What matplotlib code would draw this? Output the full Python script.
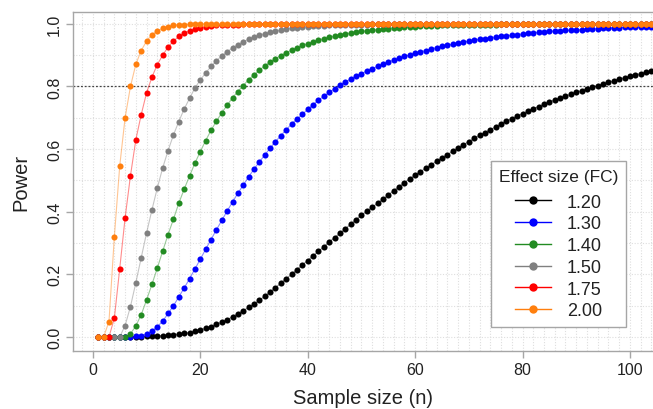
import matplotlib
matplotlib.use("Agg")
import matplotlib.pyplot as plt
from matplotlib.ticker import MultipleLocator

plt.rcParams['font.family'] = ['Liberation Sans', 'DejaVu Sans']

sample_size = list(range(1, 106))

effect_labels = ["1.20", "1.30", "1.40", "1.50", "1.75", "2.00"]
colors = ["#000000", "#0000FF", "#228B22", "#808080", "#FF0000", "#FF7F0E"]

power_120 = [
    0.000, 0.000, 0.000, 0.000, 0.000, 0.000, 0.000, 0.001, 0.001, 0.002,
    0.002, 0.003, 0.004, 0.005, 0.007, 0.009, 0.011, 0.014, 0.018, 0.022,
    0.027, 0.033, 0.040, 0.047, 0.055, 0.064, 0.074, 0.084, 0.094, 0.105,
    0.117, 0.130, 0.144, 0.157, 0.172, 0.186, 0.200, 0.215, 0.230, 0.244,
    0.259, 0.273, 0.288, 0.303, 0.317, 0.331, 0.345, 0.360, 0.375, 0.388,
    0.402, 0.414, 0.427, 0.440, 0.453, 0.467, 0.480, 0.493, 0.505, 0.517,
    0.528, 0.539, 0.550, 0.561, 0.572, 0.582, 0.593, 0.604, 0.614, 0.624,
    0.634, 0.644, 0.653, 0.662, 0.671, 0.680, 0.689, 0.697, 0.705, 0.713,
    0.721, 0.729, 0.736, 0.743, 0.750, 0.757, 0.763, 0.769, 0.775, 0.781,
    0.787, 0.792, 0.798, 0.803, 0.808, 0.813, 0.818, 0.823, 0.828, 0.833,
    0.837, 0.841, 0.845, 0.849, 0.853,
]

power_130 = [
    0.000, 0.000, 0.000, 0.000, 0.000, 0.000, 0.001, 0.002, 0.004, 0.010,
    0.018, 0.033, 0.050, 0.075, 0.099, 0.128, 0.156, 0.186, 0.217, 0.248,
    0.280, 0.311, 0.342, 0.372, 0.402, 0.431, 0.459, 0.485, 0.511, 0.536,
    0.559, 0.581, 0.603, 0.624, 0.643, 0.662, 0.680, 0.696, 0.711, 0.727,
    0.742, 0.756, 0.769, 0.781, 0.793, 0.804, 0.814, 0.824, 0.833, 0.841,
    0.849, 0.857, 0.864, 0.871, 0.878, 0.884, 0.890, 0.896, 0.901, 0.906,
    0.911, 0.915, 0.920, 0.924, 0.928, 0.932, 0.935, 0.939, 0.942, 0.945,
    0.948, 0.951, 0.953, 0.956, 0.958, 0.960, 0.962, 0.964, 0.966, 0.968,
    0.970, 0.971, 0.973, 0.974, 0.976, 0.977, 0.978, 0.979, 0.980, 0.981,
    0.982, 0.983, 0.984, 0.985, 0.986, 0.987, 0.987, 0.988, 0.989, 0.989,
    0.990, 0.990, 0.991, 0.991, 0.992,
]

power_140 = [
    0.000, 0.000, 0.000, 0.000, 0.000, 0.000, 0.010, 0.035, 0.071, 0.118,
    0.168, 0.220, 0.274, 0.327, 0.376, 0.427, 0.472, 0.514, 0.555, 0.592,
    0.627, 0.660, 0.689, 0.716, 0.740, 0.764, 0.784, 0.803, 0.822, 0.837,
    0.852, 0.866, 0.878, 0.889, 0.899, 0.908, 0.916, 0.923, 0.931, 0.937,
    0.943, 0.948, 0.953, 0.957, 0.961, 0.965, 0.968, 0.971, 0.974, 0.976,
    0.978, 0.980, 0.982, 0.984, 0.985, 0.987, 0.988, 0.989, 0.990, 0.991,
    0.992, 0.993, 0.993, 0.994, 0.995, 0.995, 0.996, 0.996, 0.997, 0.997,
    0.997, 0.998, 0.998, 0.998, 0.998, 0.999, 0.999, 0.999, 0.999, 0.999,
    0.999, 0.999, 0.999, 1.000, 1.000, 1.000, 1.000, 1.000, 1.000, 1.000,
    1.000, 1.000, 1.000, 1.000, 1.000, 1.000, 1.000, 1.000, 1.000, 1.000,
    1.000, 1.000, 1.000, 1.000, 1.000,
]

power_150 = [
    0.000, 0.000, 0.000, 0.000, 0.000, 0.036, 0.097, 0.173, 0.253, 0.332,
    0.406, 0.476, 0.540, 0.595, 0.645, 0.688, 0.728, 0.762, 0.795, 0.821,
    0.843, 0.864, 0.882, 0.898, 0.911, 0.923, 0.934, 0.943, 0.951, 0.958,
    0.964, 0.969, 0.973, 0.977, 0.980, 0.983, 0.986, 0.988, 0.990, 0.991,
    0.992, 0.993, 0.994, 0.995, 0.996, 0.996, 0.997, 0.997, 0.998, 0.998,
    0.998, 0.999, 0.999, 0.999, 0.999, 0.999, 1.000, 1.000, 1.000, 1.000,
    1.000, 1.000, 1.000, 1.000, 1.000, 1.000, 1.000, 1.000, 1.000, 1.000,
    1.000, 1.000, 1.000, 1.000, 1.000, 1.000, 1.000, 1.000, 1.000, 1.000,
    1.000, 1.000, 1.000, 1.000, 1.000, 1.000, 1.000, 1.000, 1.000, 1.000,
    1.000, 1.000, 1.000, 1.000, 1.000, 1.000, 1.000, 1.000, 1.000, 1.000,
    1.000, 1.000, 1.000, 1.000, 1.000,
]

power_175 = [
    0.000, 0.000, 0.000, 0.060, 0.218, 0.380, 0.515, 0.630, 0.710, 0.780,
    0.830, 0.870, 0.900, 0.926, 0.945, 0.960, 0.970, 0.978, 0.984, 0.988,
    0.991, 0.993, 0.995, 0.996, 0.997, 0.998, 0.998, 0.999, 0.999, 0.999,
    1.000, 1.000, 1.000, 1.000, 1.000, 1.000, 1.000, 1.000, 1.000, 1.000,
    1.000, 1.000, 1.000, 1.000, 1.000, 1.000, 1.000, 1.000, 1.000, 1.000,
    1.000, 1.000, 1.000, 1.000, 1.000, 1.000, 1.000, 1.000, 1.000, 1.000,
    1.000, 1.000, 1.000, 1.000, 1.000, 1.000, 1.000, 1.000, 1.000, 1.000,
    1.000, 1.000, 1.000, 1.000, 1.000, 1.000, 1.000, 1.000, 1.000, 1.000,
    1.000, 1.000, 1.000, 1.000, 1.000, 1.000, 1.000, 1.000, 1.000, 1.000,
    1.000, 1.000, 1.000, 1.000, 1.000, 1.000, 1.000, 1.000, 1.000, 1.000,
    1.000, 1.000, 1.000, 1.000, 1.000,
]

power_200 = [
    0.000, 0.000, 0.049, 0.320, 0.546, 0.700, 0.800, 0.871, 0.915, 0.945,
    0.966, 0.977, 0.986, 0.991, 0.995, 0.997, 0.998, 0.999, 1.000, 1.000,
    1.000, 1.000, 1.000, 1.000, 1.000, 1.000, 1.000, 1.000, 1.000, 1.000,
    1.000, 1.000, 1.000, 1.000, 1.000, 1.000, 1.000, 1.000, 1.000, 1.000,
    1.000, 1.000, 1.000, 1.000, 1.000, 1.000, 1.000, 1.000, 1.000, 1.000,
    1.000, 1.000, 1.000, 1.000, 1.000, 1.000, 1.000, 1.000, 1.000, 1.000,
    1.000, 1.000, 1.000, 1.000, 1.000, 1.000, 1.000, 1.000, 1.000, 1.000,
    1.000, 1.000, 1.000, 1.000, 1.000, 1.000, 1.000, 1.000, 1.000, 1.000,
    1.000, 1.000, 1.000, 1.000, 1.000, 1.000, 1.000, 1.000, 1.000, 1.000,
    1.000, 1.000, 1.000, 1.000, 1.000, 1.000, 1.000, 1.000, 1.000, 1.000,
    1.000, 1.000, 1.000, 1.000, 1.000,
]

series = [power_120, power_130, power_140, power_150, power_175, power_200]

W, H = 653, 410
fig = plt.figure(figsize=(W / 100, H / 100), dpi=100)
left, right, top, bottom = 73, 653, 13, 352
ax = fig.add_axes([left / W, 1 - bottom / H, (right - left) / W, (bottom - top) / H])

ax.set_xlim(-3.7, 104.3)
ax.set_ylim(-0.045, 1.038)

# grid
ax.xaxis.set_minor_locator(MultipleLocator(2))
ax.yaxis.set_minor_locator(MultipleLocator(0.1))
ax.grid(True, which='both', color='#DEDEDE', linestyle=(0, (1, 1.5)), linewidth=0.8)
ax.set_axisbelow(True)
ax.tick_params(which='minor', length=0)

# target line
ax.axhline(0.8, color='#444444', linestyle=(0, (1.5, 1.5)), linewidth=0.9, zorder=1.5)

handles = []
for vals, col, lab in zip(series, colors, effect_labels):
    ax.plot(sample_size, vals, '-', color=col, alpha=0.45, linewidth=0.8, zorder=2)
    ax.plot(sample_size, vals, 'o', color=col, markersize=4.4, markeredgewidth=0, zorder=3)
    h, = ax.plot([], [], '-o', color=col, markersize=6, linewidth=1.0, label=lab)
    h.set_markeredgewidth(0)
    handles.append(h)

for s in ['left', 'bottom', 'top']:
    ax.spines[s].set_color('#A6A6A6')
    ax.spines[s].set_linewidth(1.0)
ax.spines['right'].set_visible(False)

ax.set_xticks([0, 20, 40, 60, 80, 100])
ax.set_yticks([0.0, 0.2, 0.4, 0.6, 0.8, 1.0])
ax.set_yticklabels(["0.0", "0.2", "0.4", "0.6", "0.8", "1.0"], rotation=90, va='center')
ax.tick_params(which='major', length=5, width=1.0, color='#A6A6A6', labelsize=11.5,
               labelcolor='#222222', pad=3)

ax.set_xlabel("Sample size (n)", fontsize=14.5, color='#222222', labelpad=8)
ax.set_ylabel("Power", fontsize=14.5, color='#222222', labelpad=12)

leg = ax.legend(handles=handles, title="Effect size (FC)", loc='upper left',
                bbox_to_anchor=(0.721, 0.559), fontsize=13, title_fontsize=12.5,
                frameon=True, fancybox=False, framealpha=1.0, edgecolor='#A6A6A6',
                handlelength=2.0, handletextpad=0.9, labelspacing=0.26,
                borderpad=0.42, borderaxespad=0)
leg._legend_box.sep = 7
leg.get_frame().set_linewidth(1.0)
for t in leg.get_texts():
    t.set_color('#222222')
leg.get_title().set_color('#222222')

fig.savefig("out.png", dpi=100)
